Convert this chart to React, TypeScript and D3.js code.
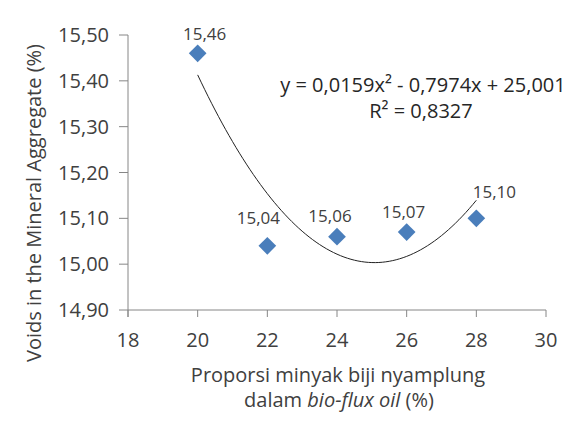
import React from "react";
import * as d3 from "d3";

const xValues = [20, 22, 24, 26, 28];
const yValues = [15.46, 15.04, 15.06, 15.07, 15.1];
const pointLabels = ["15,46", "15,04", "15,06", "15,07", "15,10"];
const xTicks = [18, 20, 22, 24, 26, 28, 30];
const yTicks = [14.9, 15.0, 15.1, 15.2, 15.3, 15.4, 15.5];
const trendCoeffs = [0.0159, -0.7974, 25.001]; // a, b, c of y = a x^2 + b x + c
const trendDomain = [20, 28];
const equationLines = ["y = 0,0159x\u00B2 - 0,7974x + 25,001", "R\u00B2 = 0,8327"];

// label offsets (layout only), relative to point
const labelOffsets = [
  [7, -13],
  [-9, -22],
  [-7, -15],
  [-3, -14],
  [18, -20],
];

const W = 586;
const H = 429;
const FONT = "'Open Sans', sans-serif";
const TEXT = "#404040";
const AXIS = "#868686";
const BLUE = "#4a7ebb";

export default function App() {
  const x = d3.scaleLinear().domain([18, 30]).range([128, 546]);
  const y = d3.scaleLinear().domain([14.9, 15.5]).range([310, 35]);

  const fmt = (v: number) => v.toFixed(2).replace(".", ",");

  const [a, b, c] = trendCoeffs;
  const samples = d3.range(trendDomain[0], trendDomain[1] + 0.0001, 0.1);
  const line = d3
    .line<number>()
    .x((d) => x(d))
    .y((d) => y(a * d * d + b * d + c))
    .curve(d3.curveMonotoneX);

  const diamond = d3.symbol().type(d3.symbolDiamond2).size(200)();

  return (
    <svg
      width={W}
      height={H}
      style={{ position: "absolute", left: 0, top: 0, background: "#fff" }}
      fontFamily={FONT}
    >
      {/* axes */}
      <line x1={x(18)} x2={x(18)} y1={y(15.5)} y2={y(14.9) + 7} stroke={AXIS} strokeWidth={1} />
      <line x1={x(18)} x2={x(30)} y1={y(14.9)} y2={y(14.9)} stroke={AXIS} strokeWidth={1} />
      {yTicks.map((t) => (
        <g key={"yt" + t}>
          <line x1={x(18) - 9} x2={x(18)} y1={y(t)} y2={y(t)} stroke={AXIS} strokeWidth={1} />
          <text
            x={x(18) - 19}
            y={y(t)}
            dy="0.35em"
            textAnchor="end"
            fontSize={20}
            fill={TEXT}
          >
            {fmt(t)}
          </text>
        </g>
      ))}
      {xTicks.map((t) => (
        <g key={"xt" + t}>
          <line x1={x(t)} x2={x(t)} y1={y(14.9)} y2={y(14.9) + 7} stroke={AXIS} strokeWidth={1} />
          <text x={x(t)} y={347} textAnchor="middle" fontSize={20} fill={TEXT}>
            {t}
          </text>
        </g>
      ))}

      {/* trendline */}
      <path d={line(samples) || ""} fill="none" stroke="#222" strokeWidth={1} />

      {/* points */}
      {xValues.map((xv, i) => (
        <g key={"p" + i}>
          <path d={diamond || ""} transform={`translate(${x(xv)},${y(yValues[i])})`} fill={BLUE} />
          <text
            x={x(xv) + labelOffsets[i][0]}
            y={y(yValues[i]) + labelOffsets[i][1]}
            textAnchor="middle"
            fontSize={17}
            fill={TEXT}
          >
            {pointLabels[i]}
          </text>
        </g>
      ))}

      {/* equation */}
      <text x={423} y={92} textAnchor="middle" fontSize={20} fill="#262626">
        {equationLines[0]}
      </text>
      <text x={421} y={118} textAnchor="middle" fontSize={20} fill="#262626">
        {equationLines[1]}
      </text>

      {/* axis titles */}
      <text
        transform={`translate(41,${203}) rotate(-90)`}
        textAnchor="middle"
        fontSize={20}
        fill={TEXT}
      >
        Voids in the Mineral Aggregate (%)
      </text>
      <text x={338} y={382} textAnchor="middle" fontSize={20} fill={TEXT}>
        Proporsi minyak biji nyamplung
      </text>
      <text x={339} y={407} textAnchor="middle" fontSize={20} fill={TEXT}>
        dalam <tspan fontStyle="italic">bio-flux oil</tspan> (%)
      </text>
    </svg>
  );
}
